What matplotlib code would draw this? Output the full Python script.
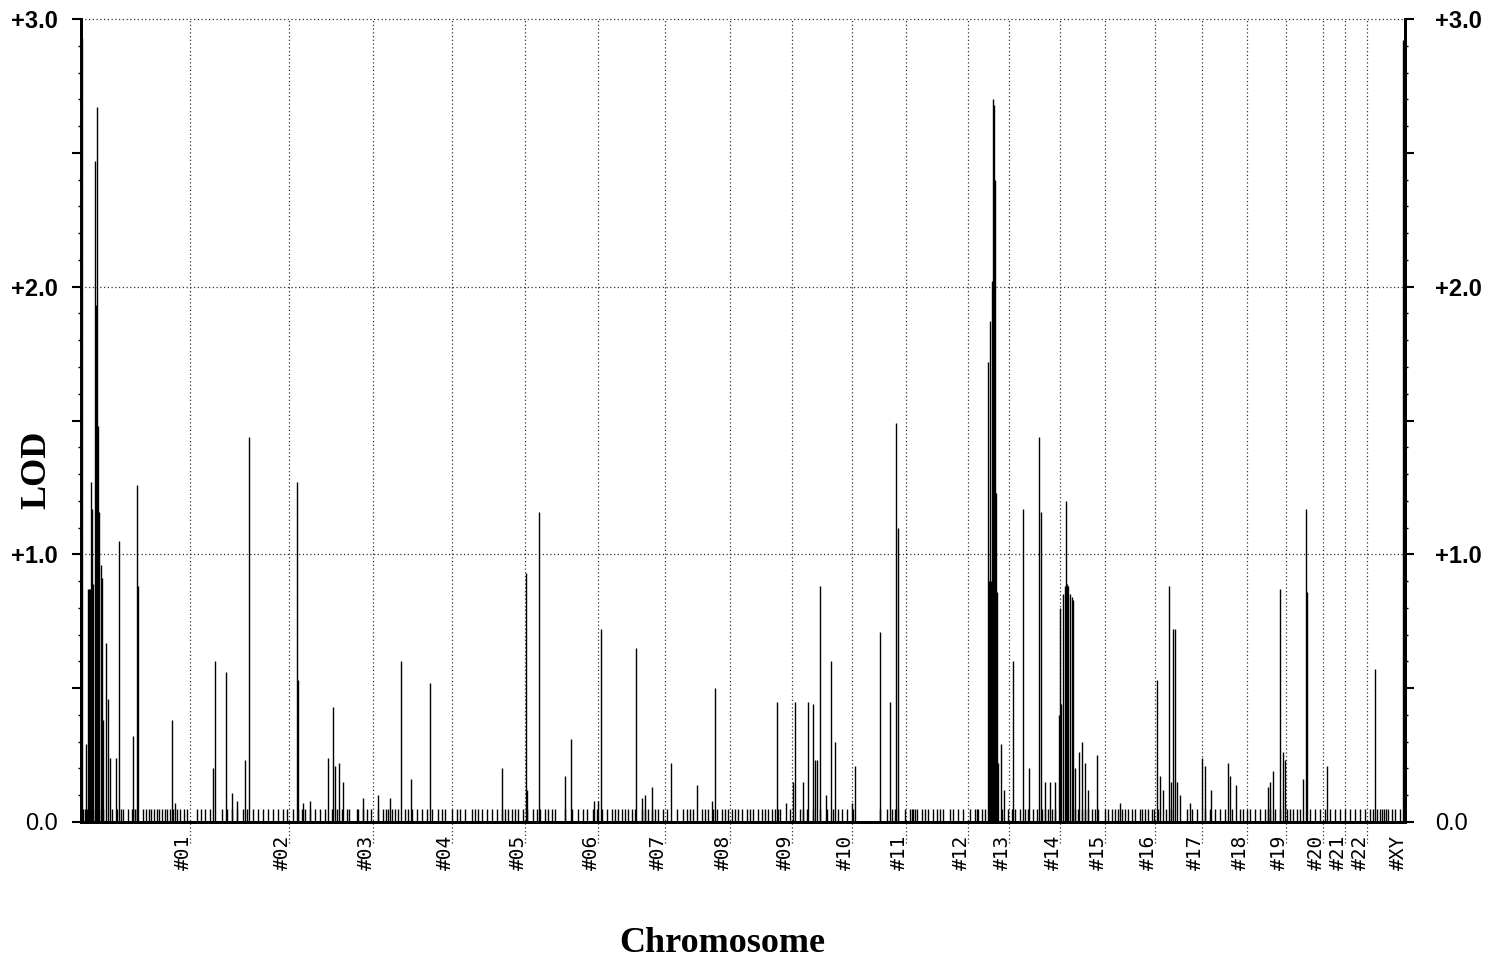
import numpy as np
import matplotlib
matplotlib.use('Agg')
import matplotlib.pyplot as plt
from matplotlib.ticker import MultipleLocator


# chromosome boundaries along the scan (map units), last one is the end of XY
chrom_names = ['#01', '#02', '#03', '#04', '#05', '#06', '#07', '#08', '#09', '#10', '#11',
               '#12', '#13', '#14', '#15', '#16', '#17', '#18', '#19', '#20', '#21', '#22', '#XY']
chrom_ends = [109, 208, 292, 371, 444, 517, 584, 649, 711, 771, 825,
              887, 928, 979, 1024, 1074, 1121, 1166, 1205, 1242, 1264, 1286, 1324]

# markers sitting at the floor value
base_pos = [2, 4, 6, 8, 12, 18, 22, 31, 36, 40, 42, 47, 51, 52, 54, 56, 62, 65, 68, 70, 73, 76, 78,
            81, 84, 86, 89, 92, 96, 99, 103, 106, 116, 120, 124, 129, 141, 146, 151, 156, 162, 166,
            172, 177, 182, 187, 192, 197, 202, 206, 212, 217, 221, 224, 229, 234, 239, 244, 251,
            256, 261, 266, 268, 276, 277, 282, 286, 290, 297, 302, 305, 307, 311, 314, 317, 324,
            327, 331, 336, 341, 346, 351, 357, 361, 364, 371, 376, 379, 384, 391, 394, 397, 401,
            406, 411, 416, 421, 424, 427, 431, 434, 437, 442, 446, 452, 456, 459, 464, 467, 471,
            474, 484, 491, 497, 502, 506, 512, 516, 521, 526, 531, 534, 537, 541, 544, 547, 551,
            554, 561, 564, 567, 571, 574, 577, 582, 586, 596, 602, 606, 609, 612, 621, 624, 627,
            632, 636, 641, 644, 647, 651, 654, 657, 661, 666, 669, 672, 677, 681, 684, 687, 691,
            694, 697, 709, 719, 722, 726, 732, 739, 746, 752, 757, 761, 766, 772, 799, 806, 811,
            814, 817, 824, 829, 831, 832, 834, 836, 841, 844, 847, 852, 856, 859, 862, 869, 872,
            877, 882, 889, 894, 896, 897, 901, 904, 921, 927, 931, 934, 939, 944, 947, 952, 956,
            961, 964, 967, 971, 974, 994, 997, 1001, 1004, 1007, 1011, 1014, 1017, 1024, 1027,
            1031, 1034, 1037, 1041, 1044, 1047, 1051, 1054, 1059, 1061, 1064, 1067, 1071, 1073,
            1077, 1085, 1090, 1106, 1111, 1116, 1124, 1129, 1134, 1139, 1144, 1151, 1159, 1162,
            1166, 1169, 1174, 1179, 1184, 1187, 1189, 1194, 1199, 1206, 1209, 1212, 1216, 1219,
            1229, 1234, 1239, 1244, 1249, 1254, 1259, 1264, 1269, 1274, 1279, 1284, 1289, 1292,
            1296, 1299, 1301, 1303, 1305, 1307, 1311, 1314, 1319]
base_lod = [0.05] * len(base_pos)

# markers above the floor
peak_pos = [1, 5, 7, 8, 9, 10, 11, 12, 14, 15, 16, 17, 18, 20, 21, 22, 25, 27, 29, 35, 38, 52, 56, 57,
            91, 94,
            132, 134, 145, 151, 156, 164, 168,
            216, 217, 222, 229, 247, 252, 254, 258, 262,
            282, 297, 309, 320, 330, 349,
            421, 445, 446, 458, 484, 490, 513, 517, 520, 555, 561, 564, 571, 590, 616, 631, 634,
            696, 699, 705, 712, 714, 722, 727, 732, 734, 736, 739, 745, 750, 754,
            771, 774, 799, 809, 815, 817,
            907, 908, 909, 910, 911, 912, 913, 914, 915, 916, 917, 920, 923,
            932, 942, 948, 958, 960, 964, 969, 974,
            978, 979, 980, 982, 984, 985, 986, 987, 989, 991, 992, 994, 998, 1001, 1004, 1007, 1016,
            1039, 1076, 1079, 1082, 1088, 1090, 1092, 1094, 1096, 1099, 1109,
            1121, 1124, 1130, 1147, 1149, 1155,
            1187, 1189, 1192, 1199, 1202, 1204,
            1222, 1225, 1226, 1246, 1294, 1322]
peak_lod = [2.93, 0.29, 0.87, 0.87, 0.87, 1.27, 1.17, 0.89, 2.47, 1.93, 2.67, 1.48, 1.16, 0.96, 0.91,
            0.38, 0.67, 0.46, 0.24, 0.24, 1.05, 0.32, 1.26, 0.88,
            0.38, 0.07,
            0.20, 0.60, 0.56, 0.11, 0.08, 0.23, 1.44,
            1.27, 0.53, 0.07, 0.08, 0.24, 0.43, 0.21, 0.22, 0.15,
            0.09, 0.10, 0.09, 0.60, 0.16, 0.52,
            0.20, 0.93, 0.12, 1.16, 0.17, 0.31, 0.08, 0.08, 0.72, 0.65, 0.09, 0.10, 0.13, 0.22,
            0.14, 0.08, 0.50,
            0.45, 0.05, 0.07, 0.15, 0.45, 0.15, 0.45, 0.44, 0.23, 0.23, 0.88, 0.10, 0.60, 0.30,
            0.07, 0.21, 0.71, 0.45, 1.49, 1.10,
            1.72, 0.90, 1.87, 0.90, 2.02, 2.70, 2.68, 2.40, 1.23, 0.86, 0.22, 0.29, 0.12,
            0.60, 1.17, 0.20, 1.44, 1.16, 0.15, 0.15, 0.15,
            0.40, 0.80, 0.44, 0.85, 0.88, 1.20, 0.89, 0.88, 0.85, 0.84, 0.83, 0.20, 0.26, 0.30,
            0.22, 0.12, 0.25,
            0.07, 0.53, 0.17, 0.12, 0.88, 0.15, 0.72, 0.72, 0.15, 0.10, 0.07,
            0.24, 0.21, 0.12, 0.22, 0.17, 0.14,
            0.13, 0.15, 0.19, 0.87, 0.26, 0.23,
            0.16, 1.17, 0.86, 0.21, 0.57, 2.92]

lod_ticks = [0, 0.5, 1.0, 1.5, 2.0, 2.5, 3.0]
lod_labels = ['0.0', '', '+1.0', '', '+2.0', '', '+3.0']


fig = plt.figure(figsize=(15.03, 9.68), dpi=100)
ax = fig.add_axes([81/1503, 146/968, 1324/1503, 803/968])

ax.set_xlim(0, chrom_ends[-1])
ax.set_ylim(0, 3.0)

# dotted grid: chromosome boundaries and whole LOD units
dots = (0, (1, 2))
for b in chrom_ends[:-1]:
    ax.vlines(b, -0.08, 3.0, colors='#333333', linestyles=dots, lw=0.9, clip_on=False, zorder=1)
for h in [1.0, 2.0, 3.0]:
    ax.axhline(h, color='#333333', ls=dots, lw=0.9, clip_on=False, zorder=1)

# the spikes
ax.vlines(base_pos, 0, base_lod, colors='black', lw=1.0, zorder=2)
ax.vlines(peak_pos, 0, peak_lod, colors='black', lw=1.0, zorder=3)

# right hand copy of the LOD scale
ax2 = ax.twinx()
ax2.set_ylim(0, 3.0)

for a in [ax, ax2]:
    a.spines['top'].set_visible(False)
    for s in ['left', 'right', 'bottom']:
        a.spines[s].set_linewidth(2.0)
        a.spines[s].set_zorder(4)
    a.set_yticks(lod_ticks)
    a.set_yticklabels(lod_labels)
    a.yaxis.set_minor_locator(MultipleLocator(0.1))
    a.tick_params(axis='y', which='major', direction='out', length=6.5, width=1.5, labelsize=17)
    a.tick_params(axis='y', which='minor', direction='out', length=2.5, width=1)
    for lab in a.yaxis.get_majorticklabels():
        lab.set_family('Liberation Sans')
        if lab.get_text().startswith('+'):
            lab.set_fontweight('bold')

ax.tick_params(axis='y', which='major', pad=10)
ax2.tick_params(axis='y', which='major', pad=15)

# chromosome labels under the axis
ax.set_xticks([])
for name, b in zip(chrom_names, chrom_ends):
    ax.annotate(name, (b, 0), xycoords='data', xytext=(-4.5, -9), textcoords='offset points',
                rotation=90, ha='center', va='top', family='DejaVu Sans Mono', fontsize=14,
                annotation_clip=False)

fig.text(37/1503, 1 - 470/968, 'LOD', rotation=90, ha='center', va='center',
         family='Liberation Serif', fontweight='bold', fontsize=26)
fig.text(722/1503, 1 - 943/968, 'Chromosome', ha='center', va='center',
         family='Liberation Serif', fontweight='bold', fontsize=26)

fig.savefig('out.png', dpi=100)
